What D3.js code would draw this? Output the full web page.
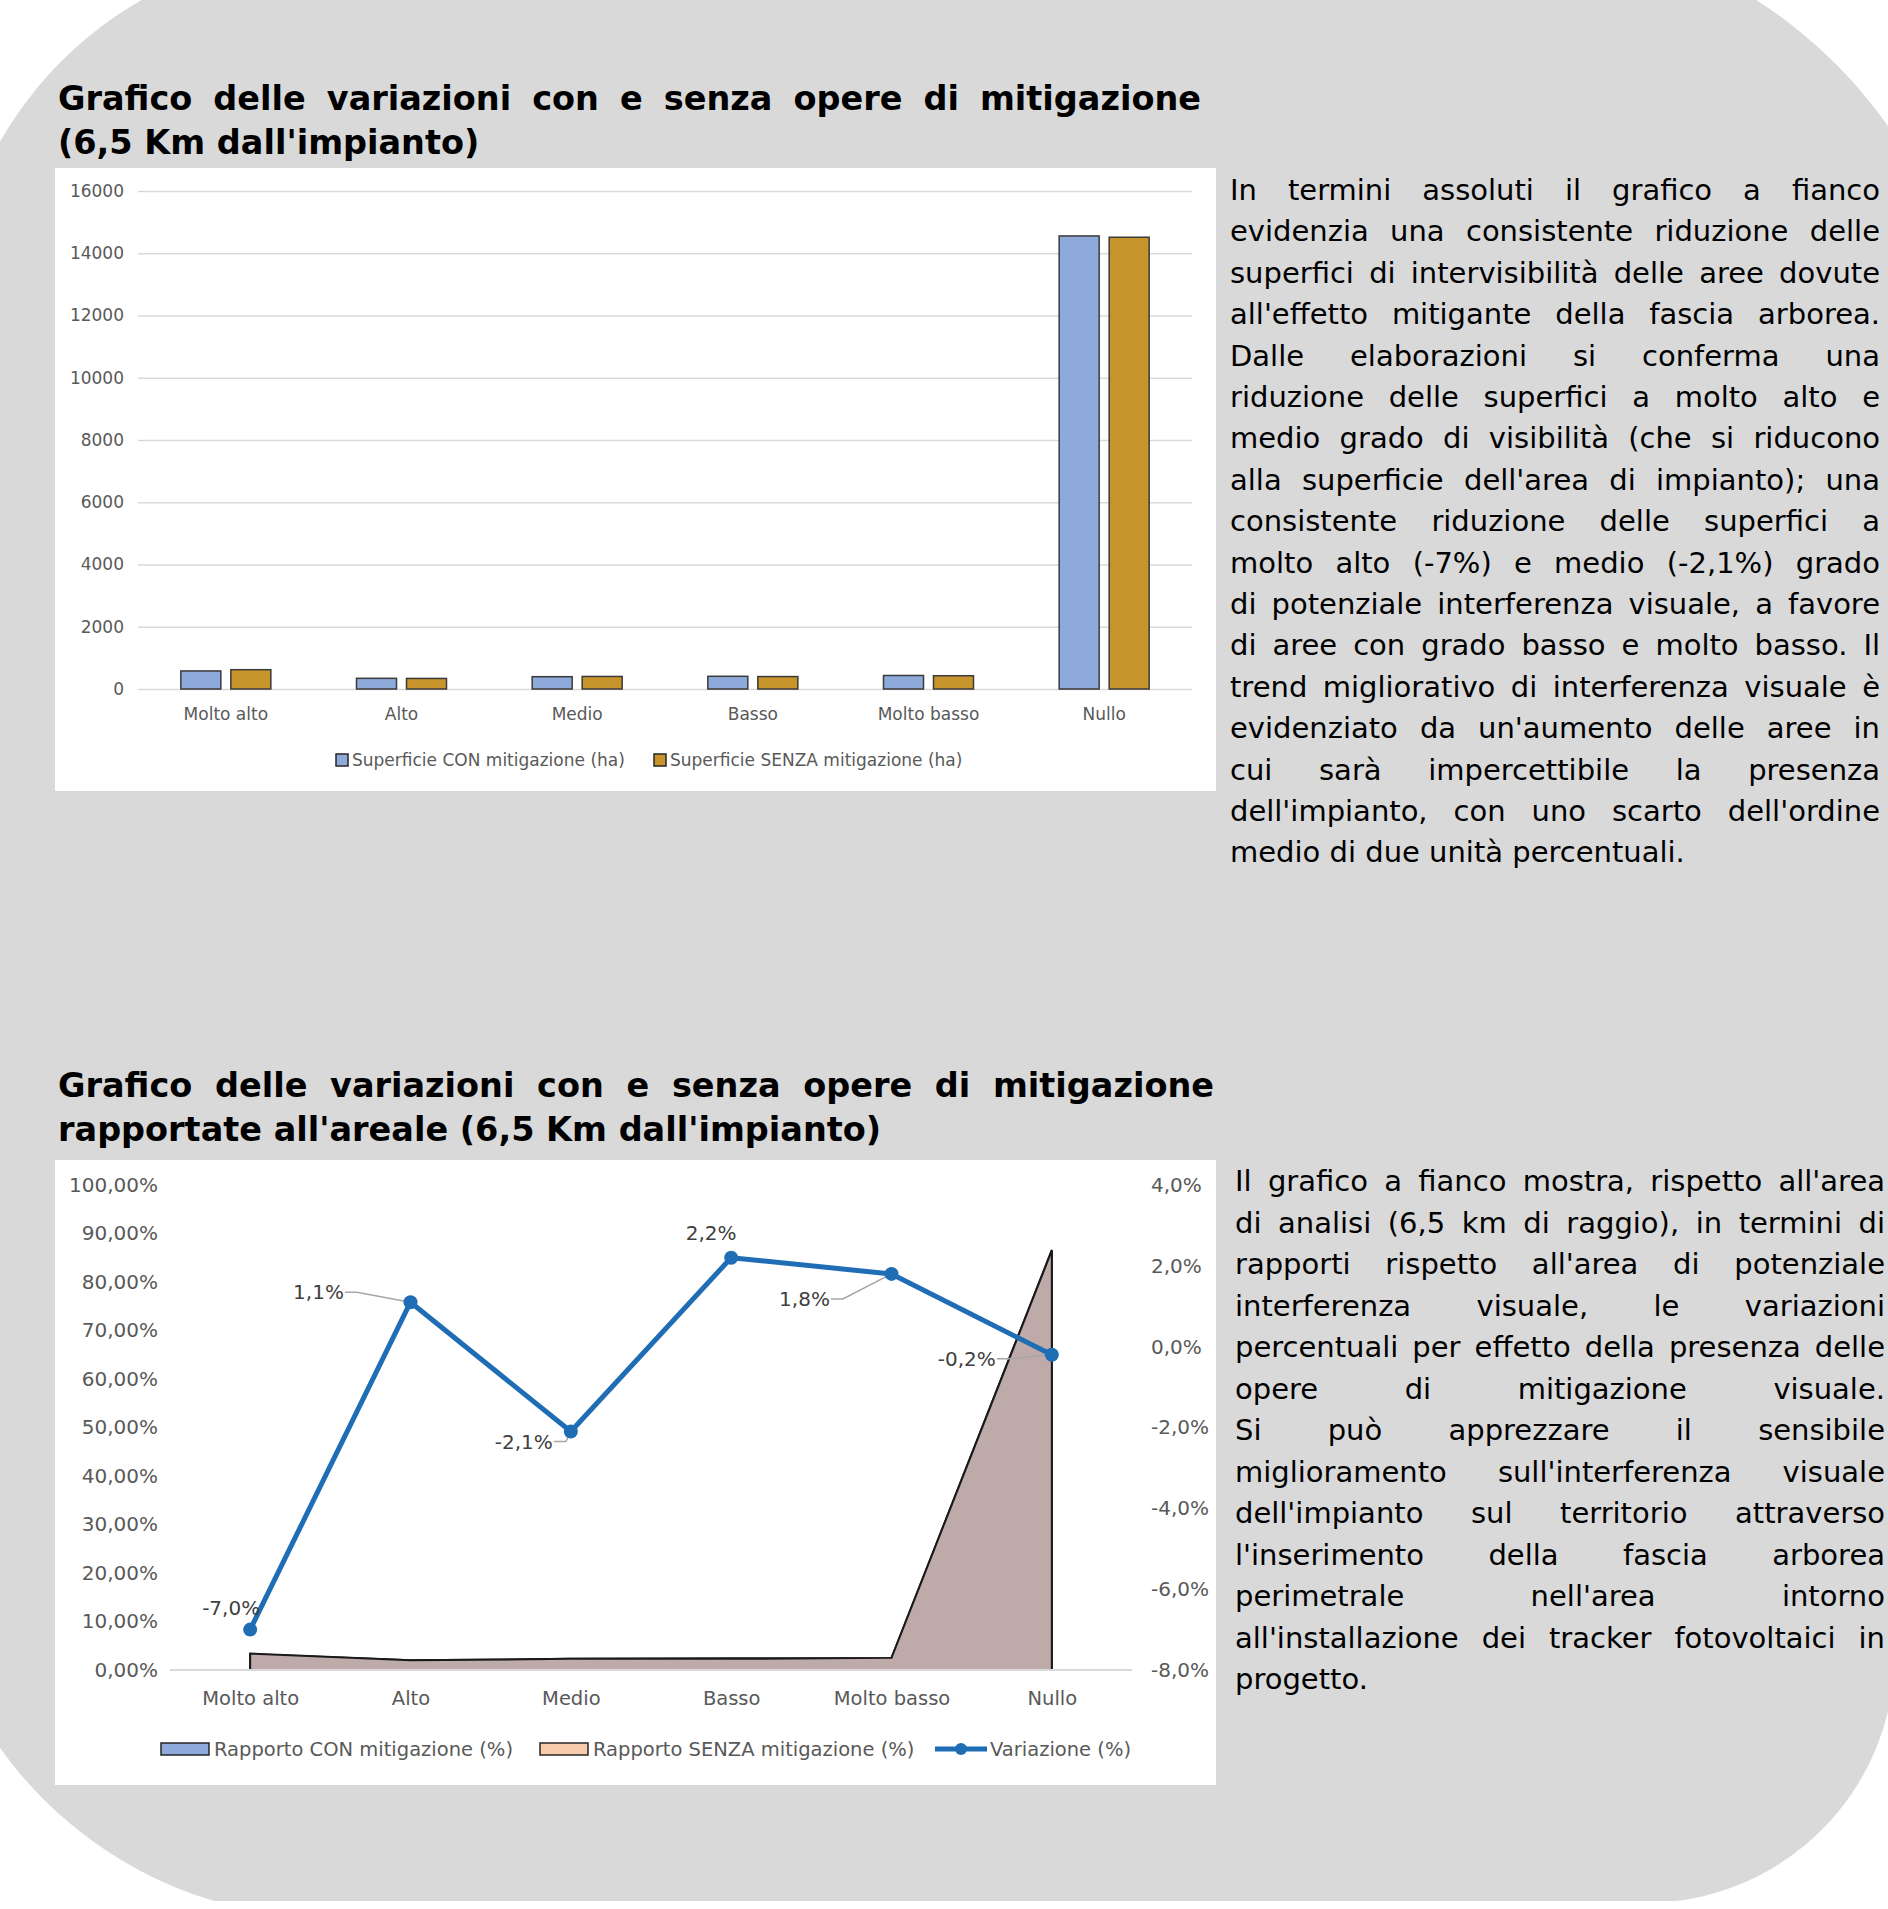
<!DOCTYPE html>
<html>
<head>
<meta charset="utf-8">
<script src="https://cdn.jsdelivr.net/npm/d3@7"></script>
<style>
  body { margin: 0; background: #fff; }
  svg { display: block; }
  text { font-family: "DejaVu Sans", Verdana, sans-serif; }
</style>
</head>
<body>
<svg id="page" width="1888" height="1909"></svg>
<script>
// ---- data ----
var categories = ["Molto alto", "Alto", "Medio", "Basso", "Molto basso", "Nullo"];

// chart 1: surfaces (ha)
var superficieCon = [580, 343, 395, 408, 434, 14556];
var superficieSenza = [620, 339, 403, 399, 426, 14514];
var barTicks = [0, 2000, 4000, 6000, 8000, 10000, 12000, 14000, 16000];

// chart 2: ratios (%) and variation (%)
var rapportoCon = [3.3, 2.0, 2.3, 2.4, 2.5, 86.6];
var rapportoSenza = [3.4, 2.0, 2.3, 2.3, 2.5, 86.5];
var variazione = [-7.0, 1.1, -2.1, 2.2, 1.8, -0.2];
var leftTicks = [0, 10, 20, 30, 40, 50, 60, 70, 80, 90, 100];
var rightTicks = [-8, -6, -4, -2, 0, 2, 4];

var title1 = ["Grafico delle variazioni con e senza opere di mitigazione",
              "(6,5 Km dall'impianto)"];
var title2 = ["Grafico delle variazioni con e senza opere di mitigazione",
              "rapportate all'areale (6,5 Km dall'impianto)"];

var para1 = [
  "In termini assoluti il grafico a fianco",
  "evidenzia una consistente riduzione delle",
  "superfici di intervisibilità delle aree dovute",
  "all'effetto mitigante della fascia arborea.",
  "Dalle elaborazioni si conferma una",
  "riduzione delle superfici a molto alto e",
  "medio grado di visibilità (che si riducono",
  "alla superficie dell'area di impianto); una",
  "consistente riduzione delle superfici a",
  "molto alto (-7%) e medio (-2,1%) grado",
  "di potenziale interferenza visuale, a favore",
  "di aree con grado basso e molto basso. Il",
  "trend migliorativo di interferenza visuale è",
  "evidenziato da un'aumento delle aree in",
  "cui sarà impercettibile la presenza",
  "dell'impianto, con uno scarto dell'ordine",
  "medio di due unità percentuali."
];
var para2 = [
  "Il grafico a fianco mostra, rispetto all'area",
  "di analisi (6,5 km di raggio), in termini di",
  "rapporti rispetto all'area di potenziale",
  "interferenza visuale, le variazioni",
  "percentuali per effetto della presenza delle",
  "opere di mitigazione visuale.",
  "Si può apprezzare il sensibile",
  "miglioramento sull'interferenza visuale",
  "dell'impianto sul territorio attraverso",
  "l'inserimento della fascia arborea",
  "perimetrale nell'area intorno",
  "all'installazione dei tracker fotovoltaici in",
  "progetto."
];

var it = d3.formatLocale({decimal: ",", thousands: ".", grouping: [3], currency: ["", "€"], minus: "-"});
var pct2 = function(v) { return it.format(".2f")(v) + "%"; };
var pct1 = function(v) { return it.format(".1f")(v) + "%"; };

var svg = d3.select("#page");

// ---- background shape ----
svg.append("clipPath").attr("id", "pageclip")
  .append("rect").attr("x", 0).attr("y", 0).attr("width", 1888).attr("height", 1901);

svg.append("path")
  .attr("clip-path", "url(#pageclip)")
  .attr("fill", "#d9d9d9")
  .attr("d", "M330,-50 L1500,-75 A475,475 0 0 1 1975,400 L1895,1653 A250,250 0 0 1 1645,1903 " +
             "L330,1918 A405,405 0 0 1 -75,1513 L-50,330 A380,380 0 0 1 330,-50 Z");

// ---- justified text helper ----
function textBlock(lines, x0, x1, y0, lh, size, weight, justifyLast) {
  var g = svg.append("g").attr("font-size", size).attr("font-weight", weight).attr("fill", "#000");
  var probe = g.append("text").text("a a");
  var probe2 = g.append("text").text("aa");
  var space = probe.node().getComputedTextLength() - probe2.node().getComputedTextLength();
  probe.remove(); probe2.remove();
  lines.forEach(function(line, i) {
    var words = line.split(" ");
    var y = y0 + i * lh;
    var nodes = words.map(function(w) { return g.append("text").attr("y", y).text(w); });
    var widths = nodes.map(function(n) { return n.node().getComputedTextLength(); });
    var last = i === lines.length - 1 && !justifyLast;
    var gap = (last || words.length < 2) ? space : (x1 - x0 - d3.sum(widths)) / (words.length - 1);
    var x = x0;
    nodes.forEach(function(n, j) { n.attr("x", x); x += widths[j] + gap; });
  });
}

textBlock(title1, 58, 1201, 110, 44, 33.5, "bold", false);
textBlock(title2, 58, 1214, 1097, 44, 33.5, "bold", false);
textBlock(para1, 1230, 1880, 200, 41.4, 29, "normal", false);
textBlock(para2, 1235, 1885, 1191, 41.5, 29, "normal", false);

// ---- chart 1: bars ----
var c1 = svg.append("g");
c1.append("rect").attr("x", 55).attr("y", 168).attr("width", 1161).attr("height", 623).attr("fill", "#fff");

var x1 = d3.scaleBand().domain(categories).range([138, 1192]);
var xs = d3.scaleBand().domain(["con", "senza"]).range([-45, 45]).paddingInner(0.2);
var y1 = d3.scaleLinear().domain([0, 16000]).range([689, 191]);

c1.append("g")
  .attr("transform", "translate(138,0)")
  .call(d3.axisLeft(y1).tickValues(barTicks).tickSize(-(1192 - 138)).tickPadding(14).tickFormat(d3.format("d")))
  .call(function(g) { g.select(".domain").remove(); })
  .call(function(g) { g.selectAll("line").attr("stroke", "#d9d9d9").attr("stroke-width", 1.5); })
  .call(function(g) { g.selectAll("text").attr("fill", "#595959").attr("font-size", 17); });

c1.append("g")
  .attr("transform", "translate(0,689)")
  .call(d3.axisBottom(x1).tickSize(0).tickPadding(19))
  .call(function(g) { g.select(".domain").remove(); })
  .call(function(g) { g.selectAll("text").attr("fill", "#595959").attr("font-size", 17).attr("font-family", null); });

var barColors = {con: "#8eaadb", senza: "#c8952c"};
var grp = c1.selectAll(".cat")
  .data(categories)
  .enter().append("g")
  .attr("transform", function(d) { return "translate(" + (x1(d) + x1.bandwidth() / 2) + ",0)"; });

grp.append("rect")
  .attr("x", xs("con")).attr("width", xs.bandwidth())
  .attr("y", function(d, i) { return y1(superficieCon[i]); })
  .attr("height", function(d, i) { return y1(0) - y1(superficieCon[i]); })
  .attr("fill", barColors.con).attr("stroke", "#3a3a3a").attr("stroke-width", 1.5);

grp.append("rect")
  .attr("x", xs("senza")).attr("width", xs.bandwidth())
  .attr("y", function(d, i) { return y1(superficieSenza[i]); })
  .attr("height", function(d, i) { return y1(0) - y1(superficieSenza[i]); })
  .attr("fill", barColors.senza).attr("stroke", "#3a3a3a").attr("stroke-width", 1.5);

var leg1 = [{t: "Superficie CON mitigazione (ha)", c: barColors.con, x: 336},
            {t: "Superficie SENZA mitigazione (ha)", c: barColors.senza, x: 654}];
leg1.forEach(function(l) {
  c1.append("rect").attr("x", l.x).attr("y", 754).attr("width", 12).attr("height", 12)
    .attr("fill", l.c).attr("stroke", "#262626").attr("stroke-width", 1.5);
  c1.append("text").attr("x", l.x + 16).attr("y", 766).attr("font-size", 17).attr("fill", "#595959").text(l.t);
});

// ---- chart 2: areas + line ----
var c2 = svg.append("g");
c2.append("rect").attr("x", 55).attr("y", 1160).attr("width", 1161).attr("height", 625).attr("fill", "#fff");

var x2 = d3.scalePoint().domain(categories).range([170, 1132]).padding(0.5);
var yL = d3.scaleLinear().domain([0, 100]).range([1670, 1185]);
var yR = d3.scaleLinear().domain([-8, 4]).range([1670, 1185]);

c2.append("g")
  .attr("transform", "translate(170,0)")
  .call(d3.axisLeft(yL).tickValues(leftTicks).tickSize(0).tickPadding(12).tickFormat(pct2))
  .call(function(g) { g.select(".domain").remove(); })
  .call(function(g) { g.selectAll("text").attr("fill", "#595959").attr("font-size", 20).attr("font-family", null); });

c2.append("g")
  .attr("transform", "translate(1132,0)")
  .call(d3.axisRight(yR).tickValues(rightTicks).tickSize(0).tickPadding(19).tickFormat(pct1))
  .call(function(g) { g.select(".domain").remove(); })
  .call(function(g) { g.selectAll("text").attr("fill", "#595959").attr("font-size", 20).attr("font-family", null); });

var areaFill = "#bdaaa9";
[rapportoCon, rapportoSenza].forEach(function(serie) {
  var pts = categories.map(function(c, i) { return [x2(c), yL(serie[i])]; });
  c2.append("path")
    .datum(pts)
    .attr("fill", areaFill)
    .attr("d", d3.area().x(function(p) { return p[0]; }).y0(yL(0)).y1(function(p) { return p[1]; }));
  var outline = [[pts[0][0], yL(0)]].concat(pts, [[pts[pts.length - 1][0], yL(0)]]);
  c2.append("path")
    .datum(outline)
    .attr("fill", "none").attr("stroke", "#1a1a1a").attr("stroke-width", 2)
    .attr("d", d3.line());
});

c2.append("line").attr("x1", 170).attr("x2", 1132).attr("y1", yL(0)).attr("y2", yL(0))
  .attr("stroke", "#d9d9d9").attr("stroke-width", 2);

c2.append("g")
  .attr("transform", "translate(0," + yL(0) + ")")
  .call(d3.axisBottom(x2).tickSize(0).tickPadding(21))
  .call(function(g) { g.select(".domain").remove(); })
  .call(function(g) { g.selectAll("text").attr("fill", "#595959").attr("font-size", 19.5).attr("font-family", null); });

var lineBlue = "#1f6db5";
c2.append("path")
  .datum(variazione)
  .attr("fill", "none").attr("stroke", lineBlue).attr("stroke-width", 5).attr("stroke-linejoin", "round")
  .attr("d", d3.line().x(function(d, i) { return x2(categories[i]); }).y(function(d) { return yR(d); }));

// data labels: offset of label centre from the point, optional leader
var labelOffsets = [[-19, -22, false], [-92, -10, true], [-47, 10, true], [-20, -25, false], [-87, 25, true], [-85, 4, true]];

variazione.forEach(function(v, i) {
  var px = x2(categories[i]), py = yR(v);
  var o = labelOffsets[i];
  var lx = px + o[0], ly = py + o[1];
  var t = c2.append("text").attr("x", lx).attr("y", ly + 7).attr("text-anchor", "middle")
    .attr("font-size", 20).attr("fill", "#404040").text(pct1(v));
  if (o[2]) {
    var w = t.node().getComputedTextLength();
    var sx = lx + w / 2 + 1;
    c2.append("path").attr("fill", "none").attr("stroke", "#a6a6a6").attr("stroke-width", 1.5)
      .attr("d", d3.line()([[sx, ly], [sx + 12, ly], [px, py]]));
  }
});

c2.selectAll(".mk")
  .data(variazione)
  .enter().append("circle")
  .attr("cx", function(d, i) { return x2(categories[i]); })
  .attr("cy", function(d) { return yR(d); })
  .attr("r", 7).attr("fill", lineBlue);

var leg2 = [{t: "Rapporto CON mitigazione (%)", c: "#8eaadb", x: 161},
            {t: "Rapporto SENZA mitigazione (%)", c: "#f8cbad", x: 540}];
leg2.forEach(function(l) {
  c2.append("rect").attr("x", l.x).attr("y", 1743).attr("width", 48).attr("height", 12)
    .attr("fill", l.c).attr("stroke", "#262626").attr("stroke-width", 1.5);
  c2.append("text").attr("x", l.x + 53).attr("y", 1756).attr("font-size", 19.5).attr("fill", "#595959").text(l.t);
});
c2.append("line").attr("x1", 935).attr("x2", 987).attr("y1", 1749).attr("y2", 1749)
  .attr("stroke", lineBlue).attr("stroke-width", 5);
c2.append("circle").attr("cx", 961).attr("cy", 1749).attr("r", 6).attr("fill", lineBlue);
c2.append("text").attr("x", 990).attr("y", 1756).attr("font-size", 19.5).attr("fill", "#595959").text("Variazione (%)");
</script>
</body>
</html>
